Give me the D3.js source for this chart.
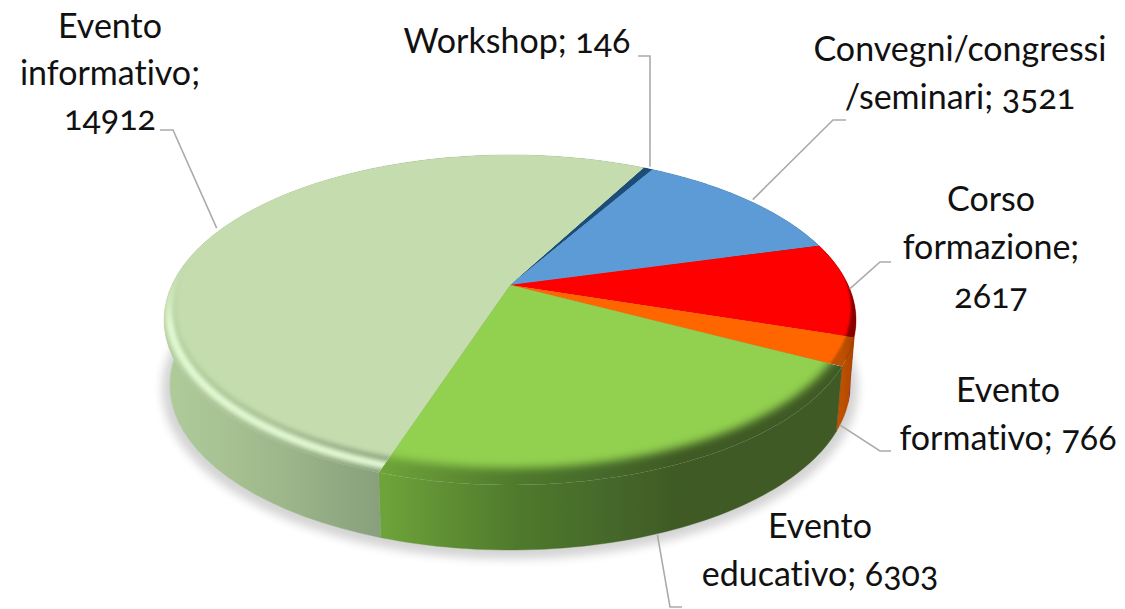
<!DOCTYPE html>
<html><head><meta charset="utf-8">
<script src="https://cdn.jsdelivr.net/npm/d3@7/dist/d3.min.js"></script>
<style>
html,body{margin:0;padding:0;background:#fff}
svg{display:block}
text{font-family:Lato,"Open Sans",sans-serif;font-size:34px;fill:#111;font-variant-numeric:oldstyle-nums;font-variant-ligatures:none;font-feature-settings:"onum" 1,"liga" 0;text-anchor:middle}
</style></head><body>
<svg id="c" width="1125" height="609"></svg>
<script>
// data
const categories = ["Workshop","Convegni/congressi/seminari","Corso formazione","Evento formativo","Evento educativo","Evento informativo"];
const values = [146,3521,2617,766,6303,14912];
const labelLines = [
  ["Workshop; 146"],
  ["Convegni/congressi","/seminari; 3521"],
  ["Corso","formazione;","2617"],
  ["Evento","formativo; 766"],
  ["Evento","educativo; 6303"],
  ["Evento","informativo;","14912"]
];
// styles
const faceColors = ["#1F4E79","#5B9BD5","#FF0000","#FF6600","#92D050","#C5DDAE"];
const faceBlur = ["b1","b1","b1","b1","b3","b2"];
const wallStops = [
  [[0,"#163a5c"],[1,"#163a5c"]],
  [[0,"#3f6f9c"],[1,"#3f6f9c"]],
  [[0,"#8a0000"],[1,"#8a0000"]],
  [[0,"#bf5000"],[1,"#a84600"]],
  [[0,"#6EA53A"],[.15,"#5F8E33"],[.3,"#4F7A2C"],[.5,"#45682A"],[.65,"#3F5A24"],[1,"#3F5A24"]],
  [[0,"#B0CC9B"],[.5,"#A0B98C"],[1,"#88A07C"]]
];
// annotation layout: anchor nudges, elbow points and text placement
const labelLayout = [
  {wall:false,nudge:[2,-2],elbow:[[650,56],[638,56]],cx:517,base:[53]},
  {wall:false,nudge:[6,0],elbow:[[833,120],[846,120]],cx:960,base:[61,109]},
  {wall:false,nudge:[0,0],elbow:[[880,262],[891,262]],cx:991,base:[211,259,308]},
  {wall:true, nudge:[-4,8],elbow:[[880,451],[891,451]],cx:1008,base:[402,450]},
  {wall:true, nudge:[-8,3],elbow:[[670,607],[682,607]],cx:820,base:[538,586]},
  {wall:false,nudge:[-6,0],elbow:[[173,130],[160,130]],cx:110,base:[38,85,130]}
];

const svg = d3.select("#c");
const defs = svg.append("defs");
const cx = 510, apexY = 285;

// perspective disc: far/near extents and half width give a homography
function disc(far, near, halfW){
  const r = (near/far), k = (r-1)/(r+1), A = far*(1+k);
  const mid = (near-far)/2;
  const v0 = mid/(A+mid*k);
  const B = halfW*(1-k*v0)/Math.sqrt(1-v0*v0);
  return a => {
    const u = Math.sin(a), v = -Math.cos(a), w = 1-k*v;
    return [cx+B*u/w, apexY+A*v/w];
  };
}
const outer = disc(130,200,346);
const ringCy = 320, bottomCy = 385;
const lower = a => { const p = outer(a); return [cx+(p[0]-cx)*.983, (p[1]-apexY-35)+bottomCy]; };

const pie = d3.pie().sort(null).startAngle(28*Math.PI/180).endAngle((28+360)*Math.PI/180);
const arcs = pie(values);
const line = d3.line();
const sweep = (f,a0,a1) => d3.range(0,61).map(i => f(a0+(a1-a0)*i/60));

// filters
[["b3",4],["b2",2.4],["b1",1.2],["bh",2.6],["s",5]].forEach(([id,sd])=>{
  defs.append("filter").attr("id",id).attr("x","-10%").attr("y","-10%").attr("width","120%").attr("height","120%")
    .append("feGaussianBlur").attr("stdDeviation",sd);
});

// ground shadow
svg.append("ellipse").attr("cx",cx).attr("cy",389).attr("rx",348).attr("ry",170)
  .attr("fill","#000").attr("opacity",.17).attr("filter","url(#s)");

// gradients
arcs.forEach((d,i)=>{
  const all = sweep(outer,d.startAngle,d.endAngle);
  const front = all.filter(p=>p[1]>ringCy);
  const xs = d3.extent(front.length?front:all,p=>p[0]);
  const g = defs.append("linearGradient").attr("id","w"+i).attr("gradientUnits","userSpaceOnUse")
    .attr("x1",xs[0]).attr("x2",xs[1]).attr("y1",0).attr("y2",0);
  g.selectAll("stop").data(wallStops[i]).join("stop").attr("offset",s=>s[0]).attr("stop-color",s=>s[1]);
  defs.append("clipPath").attr("id","cl"+i).append("path")
    .attr("d",line([[cx,apexY]].concat(all))+"Z");
});
// vertical fades for the pale slice: no rim at the back, highlight only at the front
const fade = (id,color,y1,y2,o1,o2)=>{
  const g = defs.append("linearGradient").attr("id",id).attr("gradientUnits","userSpaceOnUse")
    .attr("x1",0).attr("x2",0).attr("y1",y1).attr("y2",y2);
  g.append("stop").attr("offset",0).attr("stop-color",color).attr("stop-opacity",o1);
  g.append("stop").attr("offset",1).attr("stop-color",color).attr("stop-opacity",o2);
};
fade("under",faceColors[5],255,325,1,0);
fade("hi","#E6FBD6",265,325,0,1);

// walls
svg.append("g").selectAll("path").data(arcs).join("path")
  .attr("d",d=>line(sweep(outer,d.startAngle,d.endAngle).concat(sweep(lower,d.startAngle,d.endAngle).reverse()))+"Z")
  .attr("fill",(d,i)=>`url(#w${i})`).attr("stroke",(d,i)=>`url(#w${i})`).attr("stroke-width",.4);

// top faces with bevel
const wedge = d=>line([[cx,apexY]].concat(sweep(outer,d.startAngle,d.endAngle)))+"Z";
const tops = svg.append("g").selectAll("g").data(arcs).join("g").attr("clip-path",(d,i)=>`url(#cl${i})`);
tops.append("path").attr("d",wedge).attr("fill",(d,i)=>`url(#w${i})`);
tops.filter((d,i)=>i===5).append("path").attr("d",wedge).attr("fill","url(#under)");
tops.filter((d,i)=>i===5).append("ellipse").attr("cx",511).attr("cy",312).attr("rx",342).attr("ry",165)
  .attr("fill","none").attr("stroke","url(#hi)").attr("stroke-width",8).attr("filter","url(#bh)");
tops.append("ellipse").attr("cx",513).attr("cy",308).attr("rx",338).attr("ry",160)
  .attr("fill",(d,i)=>faceColors[i]).attr("filter",(d,i)=>`url(#${faceBlur[i]})`);

// leaders
const anchors = arcs.map((d,i)=>{
  const mid = (d.startAngle+d.endAngle)/2;
  const p = (labelLayout[i].wall?lower:outer)(mid), n = labelLayout[i].nudge;
  return [p[0]+n[0],p[1]+n[1]];
});
svg.append("g").selectAll("path").data(labelLayout).join("path")
  .attr("d",(l,i)=>line([anchors[i]].concat(l.elbow)))
  .attr("fill","none").attr("stroke","#ABABAB").attr("stroke-width",1.6);

// labels
labelLines.forEach((ls,i)=>{
  const l = labelLayout[i];
  const t = svg.append("g").attr("class","label");
  ls.forEach((s,j)=>t.append("text").attr("x",l.cx).attr("y",l.base[j]).text(s));
});
</script></body></html>
